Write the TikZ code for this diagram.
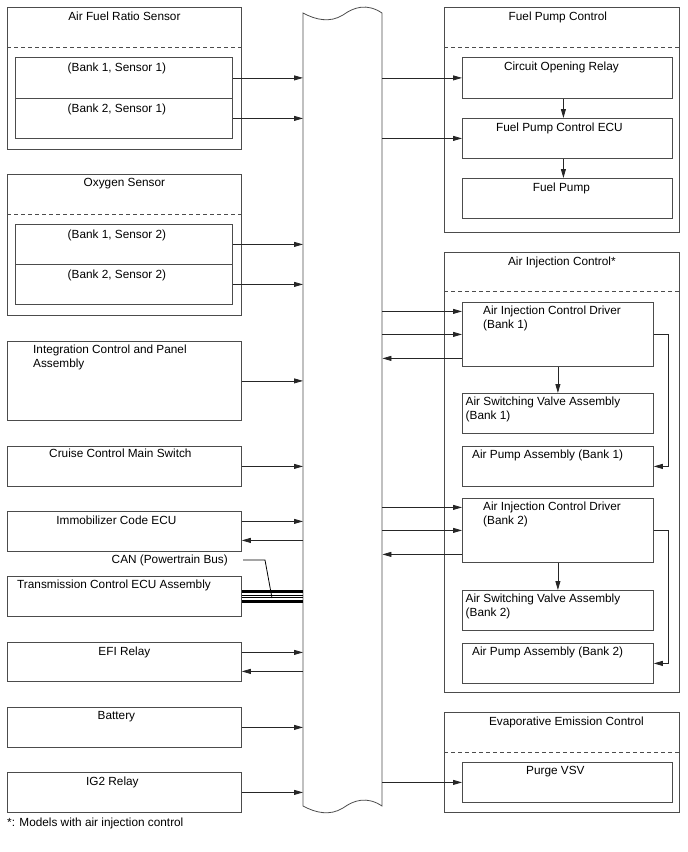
\documentclass[tikz,border=0pt]{standalone}
\usepackage{fontspec}
\setmainfont{Liberation Sans}
\usepackage{tikz}
\usetikzlibrary{arrows.meta, positioning}
\tikzstyle{frame} = [draw=black!70, line width=0.8pt]
\tikzstyle{arr}   = [draw=black!85, line width=0.8pt, -{Triangle[length=9pt,width=5pt]}]

\begin{document}
\begin{tikzpicture}[x=1pt, y=-1pt,
    every node/.style={font=\fontsize{11.8}{14}\selectfont},
    grp/.style={rectangle, frame, anchor=north west, minimum width=235pt, inner sep=0pt},
    blk/.style={rectangle, frame, anchor=north west, minimum height=40pt, inner sep=0pt},
    lblk/.style={blk, minimum width=234pt},
    sblk/.style={blk, minimum width=217pt},
    rblk/.style={blk, minimum width=210pt},
    ablk/.style={blk, minimum width=191pt},
    txt/.style={anchor=north, inner sep=4.5pt},
    ltxt/.style={anchor=north west, align=left, inner sep=3.5pt},
    sep/.style={frame, dash pattern=on 4pt off 3pt},
    bus/.style={line width=3pt},
    wire/.style={line width=0.8pt}]

  \useasboundingbox (0,0) rectangle (688,852);

  % sensors and switches
  \node[grp, minimum width=234pt, minimum height=142pt, label={[txt]north:Air Fuel Ratio Sensor}] (afr) at (7,7) {};
  \draw[sep] ([yshift=-40pt]afr.north west) -- ([yshift=-40pt]afr.north east);
  \node[sblk, minimum height=41pt, label={[txt, xshift=-7pt, inner sep=6pt]north:{(Bank 1, Sensor 1)}}] (afr1) at (15,57) {};
  \node[sblk, label={[txt, xshift=-7pt, inner sep=6pt]north:{(Bank 2, Sensor 1)}}] (afr2) at (15,98) {};

  \node[grp, minimum width=234pt, minimum height=141pt, label={[txt]north:Oxygen Sensor}] (oxs) at (7,174) {};
  \draw[sep] ([yshift=-40pt]oxs.north west) -- ([yshift=-40pt]oxs.north east);
  \node[sblk, label={[txt, xshift=-7pt, inner sep=6pt]north:{(Bank 1, Sensor 2)}}] (oxs1) at (15,224) {};
  \node[sblk, label={[txt, xshift=-7pt, inner sep=6pt]north:{(Bank 2, Sensor 2)}}] (oxs2) at (15,264) {};

  \node[lblk, minimum height=79pt, label={[ltxt, xshift=22.5pt]north west:{Integration Control and Panel\\Assembly}}] (icp) at (7,341) {};
  \node[lblk, label={[txt, xshift=-4pt, inner sep=2.5pt]north:Cruise Control Main Switch}] (ccs) at (7,446) {};
  \node[lblk, label={[txt, xshift=-8pt]north:Immobilizer Code ECU}] (imm) at (7,511) {};
  \node[anchor=east, inner sep=2pt] (can) at (230,560) {CAN (Powertrain Bus)};
  \node[lblk, label={[ltxt, xshift=6.5pt]north west:Transmission Control ECU Assembly}] (tcm) at (7,576) {};
  \node[lblk, minimum height=39pt, label={[txt]north:EFI Relay}] (efi) at (7,642) {};
  \node[lblk, label={[txt, xshift=-8pt]north:Battery}] (bat) at (7,707) {};
  \node[lblk, label={[txt, xshift=-12pt]north:IG2 Relay}] (ig2) at (7,772) {};
  \node[anchor=west, inner sep=3pt] (note) at (4,823) {*: Models with air injection control};

  % engine control bar
  \node[anchor=north west, minimum width=79pt, minimum height=805pt, inner sep=0pt] (ecm) at (303,7) {};
  \draw[frame] (303,13) .. controls (316,20) and (330,23) .. (343,15)
    .. controls (354,7) and (367,3) .. (382,13) -- (382,806)
    .. controls (367,796) and (354,800) .. (343,808)
    .. controls (330,816) and (316,813) .. (303,806) -- cycle;

  % actuators
  \node[grp, minimum height=225pt, label={[txt, xshift=-4pt]north:Fuel Pump Control}] (fpc) at (444,7) {};
  \draw[sep] ([yshift=-40pt]fpc.north west) -- ([yshift=-40pt]fpc.north east);
  \node[rblk, minimum height=41pt, label={[txt, xshift=-6pt]north:Circuit Opening Relay}] (cor) at (462,57) {};
  \node[rblk, label={[txt, xshift=-8pt]north:Fuel Pump Control ECU}] (fpe) at (462,118) {};
  \node[rblk, label={[txt, xshift=-6pt]north:Fuel Pump}] (fp) at (462,178) {};

  \node[grp, minimum height=440pt, label={[txt]north:Air Injection Control*}] (aic) at (444,252) {};
  \draw[sep] ([yshift=-39pt]aic.north west) -- ([yshift=-39pt]aic.north east);
  \node[ablk, minimum height=64pt, label={[ltxt, xshift=17.5pt]north west:{Air Injection Control Driver\\(Bank 1)}}] (aid1) at (462,302) {};
  \node[ablk, label={[ltxt]north west:{Air Switching Valve Assembly\\(Bank 1)}}] (asv1) at (462,393) {};
  \node[ablk, label={[ltxt, xshift=6.5pt]north west:{Air Pump Assembly (Bank 1)}}] (ap1) at (462,446) {};
  \node[ablk, minimum height=64pt, label={[ltxt, xshift=17.5pt]north west:{Air Injection Control Driver\\(Bank 2)}}] (aid2) at (462,498) {};
  \node[ablk, label={[ltxt]north west:{Air Switching Valve Assembly\\(Bank 2)}}] (asv2) at (462,590) {};
  \node[ablk, label={[ltxt, xshift=6.5pt]north west:{Air Pump Assembly (Bank 2)}}] (ap2) at (462,643) {};

  \node[grp, minimum height=100pt, label={[txt, xshift=4.5pt]north:Evaporative Emission Control}] (eec) at (444,712) {};
  \draw[sep] ([yshift=-40pt]eec.north west) -- ([yshift=-40pt]eec.north east);
  \node[rblk, label={[txt, xshift=-12pt]north:Purge VSV}] (pvsv) at (462,762) {};

  % inputs
  \draw[arr] (afr1.east) -- (afr1.east -| ecm.west);
  \draw[arr] (afr2.east) -- (afr2.east -| ecm.west);
  \draw[arr] (oxs1.east) -- (oxs1.east -| ecm.west);
  \draw[arr] (oxs2.east) -- (oxs2.east -| ecm.west);
  \draw[arr] (icp.east) -- (icp.east -| ecm.west);
  \draw[arr] (ccs.east) -- (ccs.east -| ecm.west);
  \draw[arr] ([yshift=10pt]imm.east) -- ([yshift=10pt]imm.east -| ecm.west);
  \draw[arr] ([yshift=-9pt]imm.east -| ecm.west) -- ([yshift=-9pt]imm.east);
  \draw[arr] ([yshift=9.5pt]efi.east) -- ([yshift=9.5pt]efi.east -| ecm.west);
  \draw[arr] ([yshift=-9.5pt]efi.east -| ecm.west) -- ([yshift=-9.5pt]efi.east);
  \draw[arr] (bat.east) -- (bat.east -| ecm.west);
  \draw[arr] (ig2.east) -- (ig2.east -| ecm.west);

  % CAN bus
  \draw[bus] ([yshift=5pt]tcm.east) -- ([yshift=5pt]tcm.east -| ecm.west);
  \draw[wire] ([yshift=1pt]tcm.east) -- ([yshift=1pt]tcm.east -| ecm.west);
  \draw[wire] ([yshift=-1pt]tcm.east) -- ([yshift=-1pt]tcm.east -| ecm.west);
  \draw[bus] ([yshift=-5pt]tcm.east) -- ([yshift=-5pt]tcm.east -| ecm.west);
  \coordinate (cantap) at (272,598);
  \draw[wire] ([xshift=13pt]can.east) -- ++(22,0) -- (cantap);

  % outputs
  \draw[arr] (cor.west -| ecm.east) -- (cor.west);
  \draw[arr] (fpe.west -| ecm.east) -- (fpe.west);
  \draw[arr] ([xshift=-4pt]cor.south) -- ([xshift=-4pt]fpe.north);
  \draw[arr] ([xshift=-4pt]fpe.south) -- ([xshift=-4pt]fp.north);

  \draw[arr] ([yshift=23pt]aid1.west -| ecm.east) -- ([yshift=23pt]aid1.west);
  \draw[arr] (aid1.west -| ecm.east) -- (aid1.west);
  \draw[arr] ([yshift=-24pt]aid1.west) -- ([yshift=-24pt]aid1.west -| ecm.east);
  \draw[arr] (aid1.south) -- (asv1.north);
  \draw[arr] (aid1.east) -- ++(15,0) |- (ap1.east);

  \draw[arr] ([yshift=23pt]aid2.west -| ecm.east) -- ([yshift=23pt]aid2.west);
  \draw[arr] (aid2.west -| ecm.east) -- (aid2.west);
  \draw[arr] ([yshift=-24pt]aid2.west) -- ([yshift=-24pt]aid2.west -| ecm.east);
  \draw[arr] (aid2.south) -- (asv2.north);
  \draw[arr] (aid2.east) -- ++(15,0) |- (ap2.east);

  \draw[arr] (pvsv.west -| ecm.east) -- (pvsv.west);
\end{tikzpicture}
\end{document}
